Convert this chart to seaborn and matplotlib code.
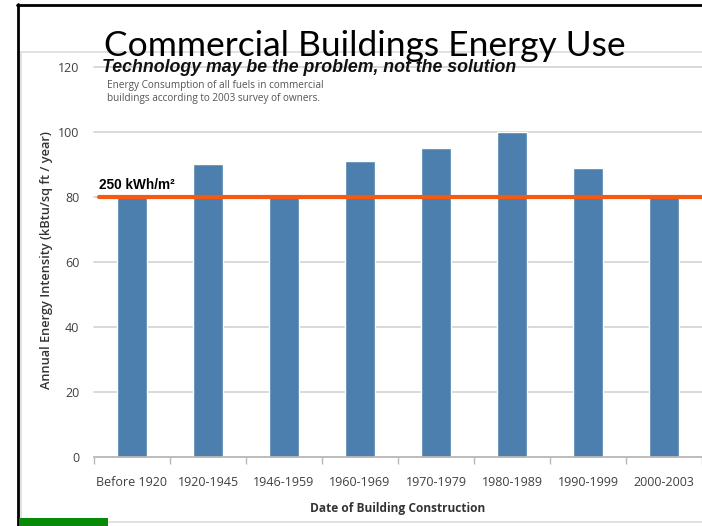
import matplotlib
matplotlib.use("Agg")
import matplotlib.pyplot as plt
import seaborn as sns
import pandas as pd
from matplotlib.lines import Line2D
from matplotlib.patches import Rectangle

# Annual energy intensity of commercial buildings by construction period
periods = ["Before 1920", "1920-1945", "1946-1959", "1960-1969",
           "1970-1979", "1980-1989", "1990-1999", "2000-2003"]
intensity = [80, 90, 80, 91, 95, 100, 89, 80]

# 250 kWh/m² reference level on the kBtu/sq ft scale
reference_level = 80
reference_label = "250 kWh/m²"

y_ticks = [0, 20, 40, 60, 80, 100, 120]

df = pd.DataFrame({"period": periods, "intensity": intensity})

sns.set_theme(style="white")
plt.rcParams["font.family"] = ["Open Sans", "DejaVu Sans"]

W, H = 702, 526
fig = plt.figure(figsize=(W / 100, H / 100), dpi=100)
fig.patch.set_facecolor("white")

ax = fig.add_axes([94 / W, 69 / H, (W - 94) / W, 390 / H])
sns.barplot(data=df, x="period", y="intensity", color="#4d7fae",
            saturation=1, width=0.4, ax=ax, zorder=2)

ax.set_ylim(0, 120)
ax.set_xlim(-0.5, len(periods) - 0.5)
ax.set_yticks(y_ticks)
ax.yaxis.grid(True, color="#d2d2d2", linewidth=1.2, zorder=0)
for gl in ax.get_ygridlines():
    gl.set_clip_on(False)
ax.set_axisbelow(True)
for s in ["top", "right", "left"]:
    ax.spines[s].set_visible(False)
ax.spines["bottom"].set_color("#b8b8b8")
ax.spines["bottom"].set_linewidth(1.2)

# category boundary tick marks under the axis
ax.set_xticks(range(len(periods)))
ax.set_xticks([i - 0.5 for i in range(len(periods) + 1)], minor=True)
ax.tick_params(axis="x", which="minor", length=5, color="#b8b8b8", width=1,
               direction="out", bottom=True)
ax.tick_params(axis="x", which="major", length=0, pad=14, labelsize=9,
               labelcolor="#404040")
ax.tick_params(axis="y", length=0, pad=10.5, labelsize=9, labelcolor="#404040")
ax.set_xticklabels(periods)

ax.set_xlabel("Date of Building Construction", fontsize=8.6, fontweight="bold",
              color="#333333")
ax.xaxis.set_label_coords(0.5, -0.115)
ax.set_ylabel("Annual Energy Intensity (kBtu/sq ft / year)", fontsize=9.2,
              fontweight="semibold", color="#333333", va="center")
ax.yaxis.set_label_coords((47 - 94) / (W - 94), (457 - 260) / 390)

# reference line with label
ax.axhline(reference_level, xmin=5 / (W - 94), xmax=1, color="#f55a10",
           linewidth=3, zorder=4)
ax.text(-0.44, reference_level + 3.6, reference_label, fontsize=9.8,
        fontweight="bold", family=["Liberation Sans", "DejaVu Sans"],
        color="black", va="center", ha="left", zorder=5,
        bbox=dict(facecolor="white", edgecolor="none", pad=0.5))

# headings and note
fig.text(365 / W, 1 - 56 / H, "Commercial Buildings Energy Use", fontsize=25.5,
         family=["Lato", "DejaVu Sans"], color="black", ha="center",
         va="baseline", zorder=6)
fig.text(102 / W, 1 - 67 / H, "Technology may be the problem, not the solution",
         fontsize=12.8, fontweight="bold", fontstyle="italic",
         family=["Liberation Sans", "DejaVu Sans"],
         color="#111111", ha="left", va="center", zorder=6)
fig.text(107 / W, 1 - 92 / H,
         "Energy Consumption of all fuels in commercial\n"
         "buildings according to 2003 survey of owners.",
         fontsize=7.2, color="#555555", ha="left", va="center",
         linespacing=1.2)

# slide frame
fig.add_artist(Line2D([17 / W, 1], [1 - 4.5 / H] * 2, color="black",
                      linewidth=2, transform=fig.transFigure))
fig.add_artist(Line2D([17.5 / W] * 2, [0, 1 - 4 / H], color="black",
                      linewidth=2, transform=fig.transFigure))
fig.add_artist(Line2D([21 / W, 1], [1 - 52 / H] * 2, color="#dcdcdc",
                      linewidth=1.2, transform=fig.transFigure))
fig.add_artist(Line2D([21 / W] * 2, [4 / H, 1 - 52 / H], color="#dcdcdc",
                      linewidth=1.2, transform=fig.transFigure))
fig.add_artist(Line2D([21 / W, 1], [4 / H] * 2, color="#dcdcdc",
                      linewidth=1.2, transform=fig.transFigure))
fig.add_artist(Rectangle((19 / W, 0), 89 / W, 8 / H, facecolor="#078a07",
                         edgecolor="none", transform=fig.transFigure,
                         zorder=10))

fig.savefig("out.png", dpi=100)
